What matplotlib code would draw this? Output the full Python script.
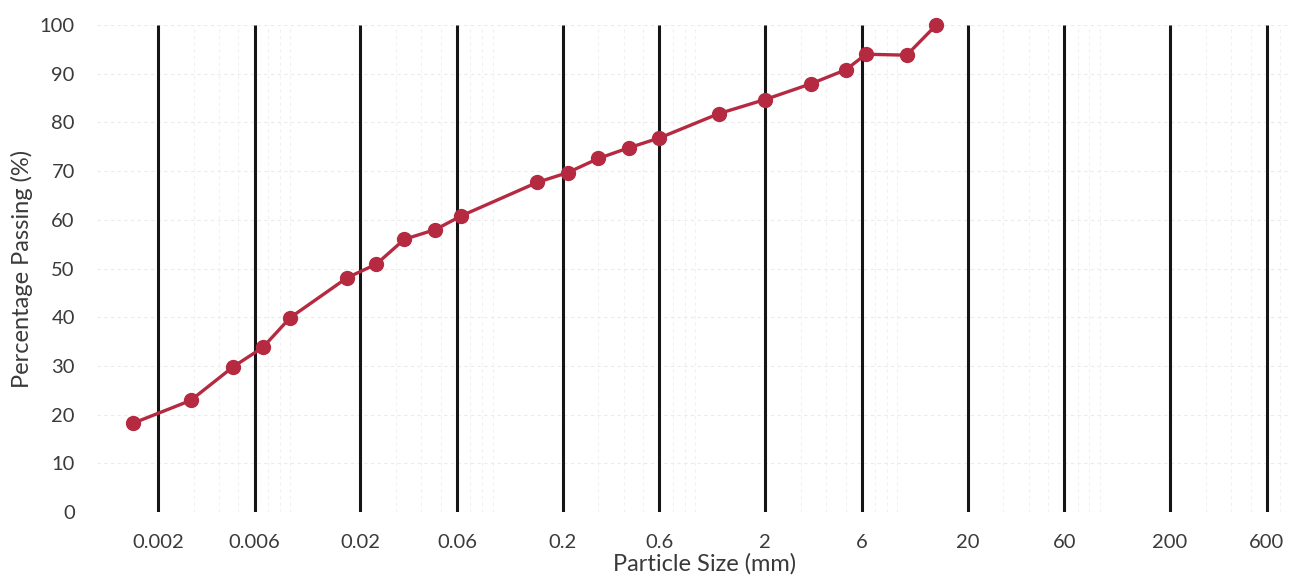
import numpy as np
import matplotlib.pyplot as plt
from matplotlib.ticker import FixedLocator, LogLocator, NullFormatter

plt.rcParams['font.family'] = ['Lato', 'DejaVu Sans']

# grading curve: hydrometer points below 0.063 mm, sieve sizes above
size_mm = [0.0015, 0.0029, 0.0047, 0.0066, 0.009, 0.0172, 0.024, 0.033, 0.047,
           0.063, 0.15, 0.212, 0.3, 0.425, 0.6, 1.18, 2.0, 3.35, 5.0, 6.3, 10.0, 14.0]
passing = [18.2, 22.9, 29.8, 33.8, 39.9, 48.1, 50.9, 56.0, 58.0,
           60.8, 67.7, 69.7, 72.6, 74.8, 76.8, 81.8, 84.7, 87.9, 90.8, 94.0, 93.8, 100.0]

# boundary lines drawn at the labelled sizes
boundaries = [0.002, 0.006, 0.02, 0.06, 0.2, 0.6, 2, 6, 20, 60, 200, 600]
boundary_labels = ['0.002', '0.006', '0.02', '0.06', '0.2', '0.6', '2', '6', '20', '60', '200', '600']
y_ticks = list(range(0, 101, 10))

txt = '#3a3a3a'

fig = plt.figure(figsize=(12.9, 5.84), dpi=100)
ax = fig.add_axes([97 / 1290, 72 / 584, 1214.5 / 1290, 487 / 584])

ax.set_xscale('log')
ax.set_xlim(0.001, 1000)
ax.set_ylim(0, 100)

# faint background grid
ax.xaxis.set_minor_locator(LogLocator(base=10, subs=np.arange(2, 10), numticks=20))
ax.xaxis.set_minor_formatter(NullFormatter())
ax.grid(True, which='minor', axis='x', color='#f1f1f1', lw=0.8, ls=(0, (3, 3)))
ax.grid(True, which='major', axis='y', color='#ebebeb', lw=0.8, ls=(0, (3, 3)))

ax.vlines(boundaries, 0, 100, colors='#151515', lw=2.2, zorder=2)

ax.plot(size_mm, passing, color='#b52a40', lw=2.4, marker='o', ms=10,
        markerfacecolor='#b52a40', markeredgecolor='#b52a40', zorder=3, clip_on=False)

ax.xaxis.set_major_locator(FixedLocator(boundaries))
ax.set_xticklabels(boundary_labels)
ax.set_yticks(y_ticks)

ax.tick_params(axis='x', which='both', length=0, pad=16, labelsize=14.5, colors=txt)
ax.tick_params(axis='y', length=0, pad=16, labelsize=14.5, colors=txt)
for s in ax.spines.values():
    s.set_visible(False)

ax.set_xlabel('Particle Size (mm)', fontsize=17, color=txt, labelpad=1)
ax.set_ylabel('Percentage Passing (%)', fontsize=17, color=txt, labelpad=5)

fig.savefig('out.png', dpi=100)
